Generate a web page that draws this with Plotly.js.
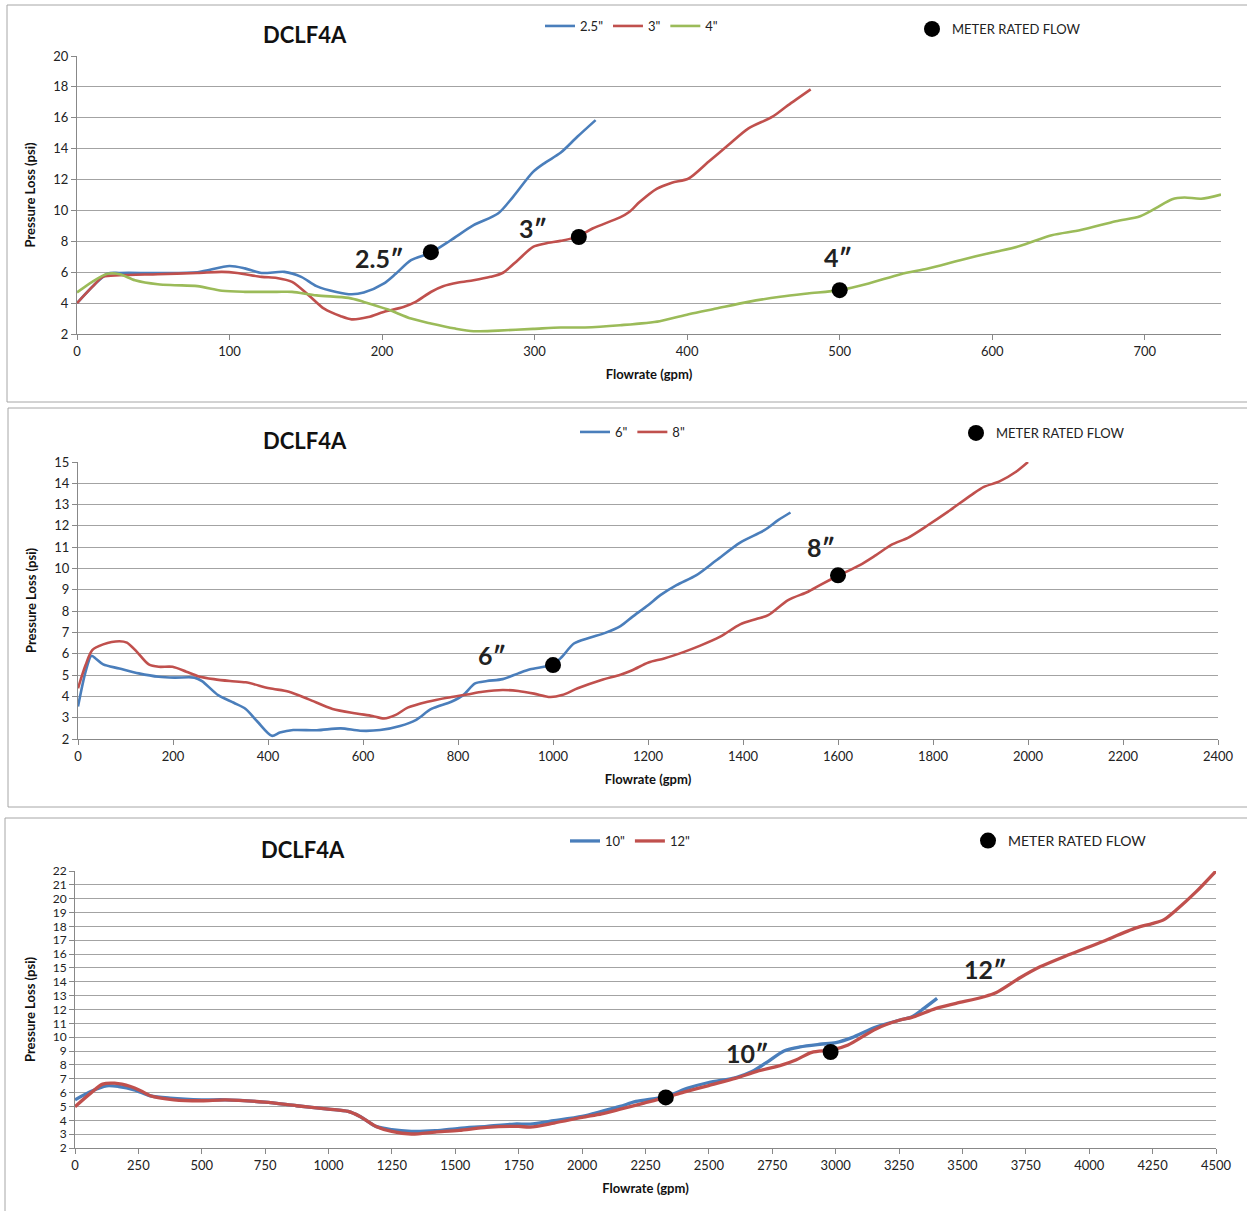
<!DOCTYPE html>
<html>
<head>
<meta charset="utf-8">
<script src="https://cdn.plot.ly/plotly-3.0.1.min.js"></script>
<style>html,body{margin:0;padding:0;background:#fff;}#chart{width:1247px;height:1211px;}</style>
</head>
<body>
<div id="chart"></div>
<script>
// ---------- Panel 1 data (2.5", 3", 4") ----------
const p1_x25 = [0, 20, 28, 53, 79, 100, 110, 121, 136, 147, 157, 170, 180, 188, 201, 209, 219, 232, 245, 260, 276, 286, 299, 307, 317, 328, 340];
const p1_y25 = [4.0, 5.9, 5.95, 5.95, 6.0, 6.4, 6.25, 5.95, 6.02, 5.7, 5.1, 4.72, 4.57, 4.68, 5.26, 5.9, 6.78, 7.27, 8.07, 9.05, 9.8, 10.9, 12.5, 13.1, 13.73, 14.77, 15.85];
const p1_x3 = [0, 10, 17, 28, 53, 79, 95, 105, 121, 131, 141, 152, 162, 173, 180, 191, 201, 214, 222, 232, 240, 250, 260, 271, 279, 289, 299, 307, 317, 328, 338, 356, 362, 369, 380, 390, 401, 414, 427, 440, 456, 466, 481];
const p1_y3 = [4.0, 5.05, 5.7, 5.8, 5.87, 5.95, 6.02, 5.95, 5.7, 5.63, 5.37, 4.5, 3.64, 3.15, 2.95, 3.1, 3.43, 3.75, 4.08, 4.72, 5.09, 5.33, 5.48, 5.7, 5.95, 6.78, 7.64, 7.86, 8.03, 8.29, 8.83, 9.55, 9.9, 10.56, 11.4, 11.8, 12.07, 13.15, 14.23, 15.3, 16.07, 16.8, 17.84];
const p1_x4 = [0, 10, 20, 28, 38, 53, 64, 79, 95, 110, 131, 141, 157, 178, 188, 204, 219, 232, 248, 260, 276, 299, 317, 333, 356, 382, 401, 419, 440, 461, 479, 500, 519, 540, 558, 579, 600, 618, 639, 658, 681, 697, 707, 718, 726, 737, 750];
const p1_y4 = [4.69, 5.38, 5.9, 5.87, 5.48, 5.22, 5.16, 5.1, 4.8, 4.73, 4.73, 4.73, 4.5, 4.34, 4.08, 3.58, 3.0, 2.68, 2.35, 2.18, 2.22, 2.33, 2.42, 2.42, 2.57, 2.83, 3.28, 3.65, 4.08, 4.41, 4.62, 4.84, 5.27, 5.87, 6.24, 6.78, 7.28, 7.69, 8.4, 8.73, 9.3, 9.63, 10.13, 10.73, 10.84, 10.76, 11.03];
const p1_meterX = [232, 329, 500];
const p1_meterY = [7.3, 8.28, 4.84];
const p1_labels = ['2.5″', '3″', '4″'];
const p1_labelX = [198, 299, 499];
const p1_labelY = [6.92, 8.86, 6.98];

// ---------- Panel 2 data (6", 8") ----------
const p2_x6 = [0, 16, 28, 37, 53, 87, 128, 170, 203, 245, 261, 295, 328, 353, 378, 408, 425, 453, 503, 553, 594, 636, 678, 711, 744, 786, 811, 836, 861, 894, 927, 952, 1000, 1019, 1044, 1077, 1110, 1142, 1167, 1200, 1226, 1260, 1302, 1344, 1394, 1445, 1474, 1500];
const p2_y6 = [3.52, 5.16, 5.9, 5.78, 5.5, 5.31, 5.08, 4.92, 4.88, 4.88, 4.72, 4.06, 3.7, 3.41, 2.81, 2.15, 2.3, 2.42, 2.41, 2.5, 2.39, 2.42, 2.61, 2.89, 3.41, 3.75, 4.06, 4.61, 4.72, 4.81, 5.08, 5.27, 5.5, 5.86, 6.48, 6.75, 6.98, 7.3, 7.73, 8.28, 8.75, 9.22, 9.69, 10.39, 11.22, 11.8, 12.27, 12.63];
const p2_x8 = [0, 16, 30, 53, 87, 103, 124, 149, 170, 199, 228, 253, 286, 320, 353, 403, 444, 486, 536, 586, 620, 644, 669, 694, 736, 777, 819, 852, 894, 927, 960, 994, 1019, 1052, 1102, 1142, 1167, 1201, 1234, 1276, 1310, 1352, 1394, 1428, 1453, 1495, 1537, 1562, 1600, 1646, 1680, 1714, 1747, 1789, 1831, 1882, 1907, 1940, 1974, 2000];
const p2_y8 = [4.38, 5.47, 6.17, 6.44, 6.59, 6.52, 6.09, 5.5, 5.39, 5.39, 5.16, 4.95, 4.81, 4.72, 4.66, 4.38, 4.22, 3.86, 3.41, 3.2, 3.08, 2.96, 3.13, 3.47, 3.75, 3.94, 4.09, 4.22, 4.3, 4.25, 4.13, 3.97, 4.06, 4.38, 4.77, 5.02, 5.23, 5.59, 5.78, 6.09, 6.38, 6.8, 7.38, 7.63, 7.81, 8.52, 8.91, 9.22, 9.66, 10.16, 10.63, 11.13, 11.44, 12.03, 12.66, 13.47, 13.83, 14.09, 14.53, 15.0];
const p2_meterX = [1000, 1600];
const p2_meterY = [5.47, 9.68];
const p2_labels = ['6″', '8″'];
const p2_labelX = [872, 1564];
const p2_labelY = [5.94, 11.01];

// ---------- Panel 3 data (10", 12") ----------
const p3_x10 = [0, 62, 125, 172, 234, 297, 375, 500, 593, 749, 874, 999, 1077, 1124, 1187, 1249, 1327, 1421, 1515, 1624, 1733, 1795, 1889, 2000, 2077, 2150, 2212, 2330, 2417, 2499, 2607, 2670, 2733, 2796, 2859, 2938, 3001, 3064, 3159, 3254, 3301, 3348, 3400];
const p3_y10 = [5.48, 6.08, 6.49, 6.44, 6.2, 5.77, 5.6, 5.48, 5.48, 5.31, 5.05, 4.81, 4.64, 4.28, 3.56, 3.32, 3.2, 3.25, 3.42, 3.56, 3.73, 3.73, 3.97, 4.28, 4.64, 5.0, 5.36, 5.72, 6.32, 6.73, 7.09, 7.52, 8.24, 9.01, 9.3, 9.49, 9.61, 9.97, 10.74, 11.24, 11.48, 12.08, 12.8];
const p3_x12 = [0, 62, 109, 156, 219, 265, 297, 390, 500, 593, 749, 874, 999, 1077, 1124, 1187, 1249, 1327, 1421, 1515, 1624, 1749, 1795, 1889, 2000, 2077, 2150, 2244, 2330, 2401, 2499, 2607, 2686, 2780, 2843, 2906, 2985, 3049, 3159, 3254, 3301, 3396, 3475, 3585, 3632, 3727, 3806, 3916, 4043, 4185, 4248, 4295, 4342, 4421, 4500];
const p3_y12 = [4.98, 5.96, 6.61, 6.68, 6.44, 6.08, 5.77, 5.48, 5.41, 5.48, 5.31, 5.05, 4.81, 4.64, 4.28, 3.56, 3.2, 3.01, 3.15, 3.27, 3.49, 3.56, 3.51, 3.8, 4.21, 4.47, 4.8, 5.24, 5.65, 6.03, 6.51, 7.04, 7.52, 7.95, 8.36, 8.91, 9.08, 9.44, 10.6, 11.24, 11.43, 12.08, 12.44, 12.92, 13.21, 14.29, 15.08, 15.93, 16.84, 17.89, 18.2, 18.49, 19.17, 20.49, 22.0];
const p3_meterX = [2330, 2980];
const p3_meterY = [5.65, 8.93];
const p3_labels = ['10″', '12″'];
const p3_labelX = [2654, 3589];
const p3_labelY = [8.86, 14.92];

const chartTitle = 'DCLF4A';
const xTitle = 'Flowrate (gpm)';
const yTitle = 'Pressure Loss (psi)';
const meterName = 'METER RATED FLOW';

// ---------- styling ----------
const BLUE = '#4A7EBB', RED = '#C0504D', GREEN = '#9BBB59';
const FONT = 'Lato, "Open Sans", sans-serif';
const W = 1247, H = 1211;
const px = v => v / W;
const py = v => 1 - v / H;

function line(x, y, name, color, xa, ya, legend, width) {
  return {x, y, name, type: 'scatter', mode: 'lines', xaxis: xa, yaxis: ya, legend,
    line: {color, width: width || 2.6, shape: 'spline', smoothing: 0.8}, hoverinfo: 'x+y'};
}
function meter(x, y, xa, ya, legend) {
  return {x, y, name: meterName, type: 'scatter', mode: 'markers', xaxis: xa, yaxis: ya, legend,
    marker: {color: '#000', size: 16, symbol: 'circle'}};
}

const data = [
  line(p1_x25, p1_y25, '2.5"', BLUE, 'x', 'y', 'legend'),
  line(p1_x3, p1_y3, '3"', RED, 'x', 'y', 'legend'),
  line(p1_x4, p1_y4, '4"', GREEN, 'x', 'y', 'legend'),
  meter(p1_meterX, p1_meterY, 'x', 'y', 'legend4'),
  line(p2_x6, p2_y6, '6"', BLUE, 'x2', 'y2', 'legend2'),
  line(p2_x8, p2_y8, '8"', RED, 'x2', 'y2', 'legend2'),
  meter(p2_meterX, p2_meterY, 'x2', 'y2', 'legend5'),
  line(p3_x10, p3_y10, '10"', BLUE, 'x3', 'y3', 'legend3', 3.3),
  line(p3_x12, p3_y12, '12"', RED, 'x3', 'y3', 'legend3', 3.3),
  meter(p3_meterX, p3_meterY, 'x3', 'y3', 'legend6'),
];

const tickFont = {family: FONT, size: 13, color: '#222'};
const titleFont = {family: FONT, size: 13, color: '#111', weight: 'bold'};
function xax(domain, anchor, range, dtick) {
  return {domain, anchor, range, dtick, tick0: 0, ticks: 'outside', ticklen: 5, tickcolor: '#888',
    showline: true, linecolor: '#888', linewidth: 1, showgrid: false, zeroline: false,
    tickfont: tickFont, title: {text: xTitle, font: titleFont, standoff: 12}, fixedrange: true};
}
function yax(domain, anchor, range, dtick, fs) {
  return {domain, anchor, range, dtick, tick0: 0, ticks: 'outside', ticklen: 5, tickcolor: '#888',
    showline: true, linecolor: '#888', linewidth: 1, showgrid: true, gridcolor: '#a3a3a3', gridwidth: 1,
    zeroline: false, tickfont: Object.assign({}, tickFont, {size: fs || 13}),
    title: {text: yTitle, font: titleFont, standoff: 14}, fixedrange: true};
}

const annotations = [];
[[305, 34], [305, 440], [303, 849]].forEach(([cx, cy]) => {
  annotations.push({text: chartTitle, xref: 'paper', yref: 'paper', x: px(cx), y: py(cy),
    xanchor: 'center', yanchor: 'middle', showarrow: false,
    font: {family: FONT, size: 22, color: '#111', weight: 'bold'}});
});
function sizeLabels(labels, xs, ys, xa, ya) {
  labels.forEach((t, i) => annotations.push({text: t, x: xs[i], y: ys[i], xref: xa, yref: ya,
    showarrow: false, xanchor: 'center', yanchor: 'middle',
    font: {family: FONT, size: 25, color: '#222', weight: 'bold'}}));
}
sizeLabels(p1_labels, p1_labelX, p1_labelY, 'x', 'y');
sizeLabels(p2_labels, p2_labelX, p2_labelY, 'x2', 'y2');
sizeLabels(p3_labels, p3_labelX, p3_labelY, 'x3', 'y3');

const border = {color: '#a6a6a6', width: 1};
const shapes = [
  {type: 'rect', xref: 'paper', yref: 'paper', x0: px(7), x1: px(1260), y0: py(402), y1: py(5), line: border, layer: 'below'},
  {type: 'rect', xref: 'paper', yref: 'paper', x0: px(8), x1: px(1260), y0: py(807), y1: py(408), line: border, layer: 'below'},
  {type: 'rect', xref: 'paper', yref: 'paper', x0: px(5), x1: px(1260), y0: py(1230), y1: py(818), line: border, layer: 'below'},
];

function leg(xp, yp, fs) {
  return {orientation: 'h', x: px(xp), y: py(yp), xanchor: 'left', yanchor: 'middle',
    bgcolor: 'rgba(0,0,0,0)', font: {family: FONT, size: fs || 13, color: '#222'},
    itemwidth: 30, tracegroupgap: 0};
}

const layout = {
  width: W, height: H, margin: {l: 0, r: 0, t: 0, b: 0},
  paper_bgcolor: '#fff', plot_bgcolor: '#fff', font: {family: FONT},
  xaxis: xax([px(77), px(1221)], 'y', [0, 750], 100),
  yaxis: yax([py(334), py(56)], 'x', [2, 20], 2),
  xaxis2: xax([px(78), px(1218)], 'y2', [0, 2400], 200),
  yaxis2: yax([py(739), py(462)], 'x2', [2, 15], 1),
  xaxis3: xax([px(75), px(1216)], 'y3', [0, 4500], 250),
  yaxis3: yax([py(1148), py(871)], 'x3', [2, 22], 1, 12),
  legend: leg(540, 26),
  legend2: leg(575, 432),
  legend3: leg(565, 841),
  legend4: leg(912, 29, 13),
  legend5: leg(956, 433, 13),
  legend6: leg(968, 841, 14),
  annotations, shapes, showlegend: true,
};

Plotly.newPlot('chart', data, layout, {staticPlot: true});
</script>
</body>
</html>
